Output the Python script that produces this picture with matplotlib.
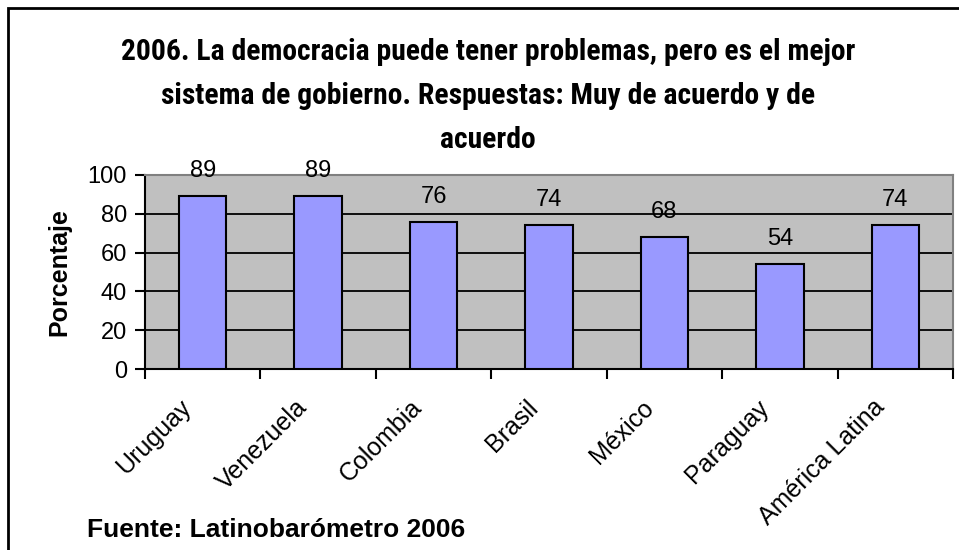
import matplotlib
matplotlib.use("Agg")
import matplotlib.pyplot as plt
import matplotlib.transforms as mtransforms
from matplotlib.patches import Rectangle

# Data
paises = ['Uruguay', 'Venezuela', 'Colombia', 'Brasil', 'México', 'Paraguay', 'América Latina']
porcentaje = [89, 89, 76, 74, 68, 54, 74]
yticks = [0, 20, 40, 60, 80, 100]

titulo = ('2006. La democracia puede tener problemas, pero es el mejor\n'
          'sistema de gobierno. Respuestas: Muy de acuerdo y de\n'
          'acuerdo')
fuente = 'Fuente: Latinobarómetro 2006'

NARROW = ['Roboto Condensed', 'Archivo Narrow', 'DejaVu Sans']
REGULAR = ['Liberation Sans', 'DejaVu Sans']


def create_plot():
    fig = plt.figure(figsize=(9.59, 5.50), dpi=100)
    fig.patch.set_facecolor('white')

    # plot area in pixels: x 145..953, y 175..369
    ax = fig.add_axes([145 / 959, (550 - 369) / 550, 808 / 959, 194 / 550])
    ax.set_facecolor('#C0C0C0')

    x = list(range(len(paises)))
    ax.bar(x, porcentaje, width=0.41, color='#9999FF', edgecolor='black',
           linewidth=1.5, zorder=3)

    for xi, v in zip(x, porcentaje):
        ax.annotate(str(v), xy=(xi, v), xytext=(0, 18), textcoords='offset points',
                    ha='center', va='center', fontsize=17, family=REGULAR,
                    annotation_clip=False, zorder=4)

    ax.set_xlim(-0.5, len(paises) - 0.5)
    ax.set_ylim(0, 100)

    # gridlines
    for g in yticks[1:-1]:
        ax.axhline(g, color='black', linewidth=1.3, zorder=1)

    ax.set_yticks(yticks)
    ax.set_yticklabels([str(t) for t in yticks], fontsize=17, family=REGULAR)
    ax.tick_params(axis='y', direction='out', length=7, width=1.5, pad=6)

    # category boundaries carry the tick marks, centers carry the labels
    ax.set_xticks([i - 0.5 for i in range(len(paises) + 1)])
    ax.set_xticklabels([''] * (len(paises) + 1))
    ax.set_xticks(x, minor=True)
    ax.set_xticklabels(paises, minor=True, rotation=45, ha='right', va='center',
                       rotation_mode='anchor', fontsize=18, family=REGULAR)
    ax.tick_params(axis='x', which='major', direction='out', length=7, width=1.5)
    ax.tick_params(axis='x', which='minor', length=0, pad=25)
    shift = mtransforms.ScaledTranslation(-15 / 100, 0, fig.dpi_scale_trans)
    for lab in ax.get_xticklabels(minor=True):
        lab.set_transform(lab.get_transform() + shift)

    for side in ['left', 'bottom']:
        ax.spines[side].set_color('black')
        ax.spines[side].set_linewidth(1.5)
    for side in ['top', 'right']:
        ax.spines[side].set_color('#808080')
        ax.spines[side].set_linewidth(1.5)

    ax.set_ylabel('Porcentaje', fontsize=18, fontweight='bold', family=REGULAR, labelpad=12)

    fig.text(488 / 959, 1 - 96 / 550, titulo, ha='center', va='center', fontsize=21.3,
             fontweight='bold', fontstretch='condensed', family=NARROW, linespacing=1.75)
    fig.text(87 / 959, 1 - 530 / 550, fuente, ha='left', va='center', fontsize=19,
             fontweight='bold', family=REGULAR)

    # chart frame
    fig.add_artist(Rectangle((8 / 959, -0.1), 1.2, 1.1 - 8 / 550,
                             transform=fig.transFigure, fill=False,
                             edgecolor='black', linewidth=2))

    fig.savefig('out.png', dpi=100)


if __name__ == "__main__":
    create_plot()
